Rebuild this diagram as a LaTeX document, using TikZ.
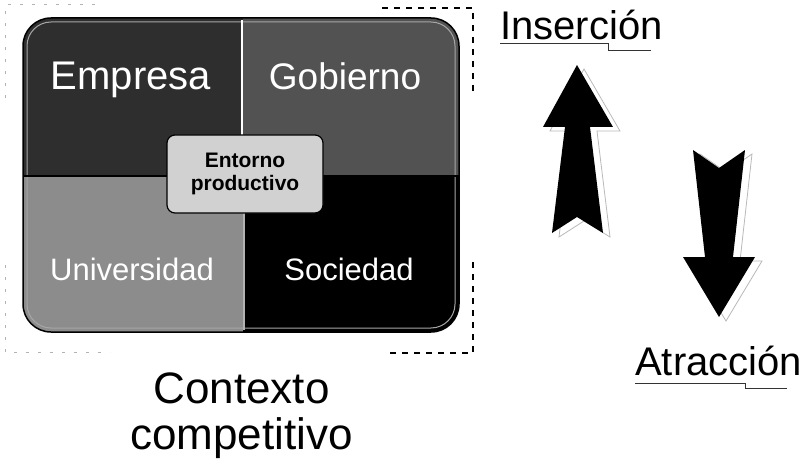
\documentclass[tikz,border=0pt]{standalone}
\usepackage{fontspec}
\setmainfont{Liberation Sans}
\usetikzlibrary{positioning}
\definecolor{empresagray}{gray}{0.18}
\definecolor{gobiernogray}{gray}{0.32}
\definecolor{univgray}{gray}{0.55}
\definecolor{entornogray}{gray}{0.82}

\begin{document}
\begin{tikzpicture}[x=1pt,y=-1pt,
  quadtext/.style={text=white,anchor=base,inner sep=0pt},
  bigtext/.style={anchor=base west,inner sep=0pt,font=\fontsize{40}{40}\selectfont},
  entornobox/.style={draw=black,line width=1.2pt,fill=entornogray,rounded corners=8pt,
    minimum width=156pt,minimum height=78pt,align=center,
    font=\bfseries\fontsize{21}{23}\selectfont},
  frame/.style={dash pattern=on 6pt off 6pt,line width=1.5pt},
  faintframe/.style={gray!60,dash pattern=on 3pt off 9pt,line width=1pt},
  uline/.style={line width=1pt,black!80},
  shadowline/.style={draw=gray!55,fill=white,line width=0.8pt}]
\useasboundingbox (0,0) rectangle (807,460);
% dashed frame round the matrix
\draw[faintframe] (95,5) -- (5,5) -- (5,100);
\draw[faintframe] (5,265) -- (5,352) -- (110,352);
\draw[frame] (382,8) -- (473,8) -- (473,95);
\draw[frame] (473,262) -- (473,353) -- (385,353);
% the four quadrants
\begin{scope}
\clip[rounded corners=28pt] (23,18) rectangle (459,332);
\fill[empresagray] (23,18) rectangle (243,176);
\fill[gobiernogray] (243,18) rectangle (459,176);
\fill[univgray] (23,176) rectangle (243,332);
\fill[black] (243,176) rectangle (459,332);
\end{scope}
\draw[black,line width=1.5pt,rounded corners=28pt] (23,18) rectangle (459,332);
\draw[gray!70,line width=1pt,rounded corners=24pt] (27,22) rectangle (455,328);
\draw[white,line width=2pt] (242,20) -- (242,176);
\draw[gray!60,line width=2pt] (244,176) -- (244,330);
\draw[black,line width=1.5pt] (23,176) -- (459,176);
\node[quadtext,font=\fontsize{40}{40}\selectfont] (empresa) at (131,90) {Empresa};
\node[quadtext,font=\fontsize{37}{37}\selectfont] (gobierno) at (345,90) {Gobierno};
\node[quadtext,font=\fontsize{31}{31}\selectfont] (universidad) at (132,280) {Universidad};
\node[quadtext,font=\fontsize{31}{31}\selectfont] (sociedad) at (349,280) {Sociedad};
\node[entornobox] (entorno) at (245,174) {Entorno\\productivo};
\node[inner sep=0pt,align=center,font=\fontsize{44}{46}\selectfont] (contexto) at (241.5,416) {Contexto\\competitivo};
% up arrow
\begin{scope}[shift={(7,4)}]
\draw[shadowline] (577,65) -- (613,127) -- (590,127) -- (603,233) -- (577,217) -- (552,233) -- (565,127) -- (543,127) -- cycle;
\end{scope}
\fill[black] (577,65) -- (613,127) -- (590,127) -- (603,233) -- (577,217) -- (552,233) -- (565,127) -- (543,127) -- cycle;
% down arrow
\begin{scope}[shift={(7,4)}]
\draw[shadowline] (693,150) -- (719,168) -- (745,150) -- (733,257) -- (755,257) -- (719,317) -- (683,257) -- (705,257) -- cycle;
\end{scope}
\fill[black] (693,150) -- (719,168) -- (745,150) -- (733,257) -- (755,257) -- (719,317) -- (683,257) -- (705,257) -- cycle;
% labels
\node[bigtext] (insercion) at (500,40) {Inserción};
\draw[uline] (500,44) -- (608,44) -- (608,51) -- (651,51);
\node[bigtext] (atraccion) at (635,375) {Atracción};
\draw[uline] (635,383) -- (745,383) -- (745,388) -- (787,388);
\end{tikzpicture}
\end{document}
